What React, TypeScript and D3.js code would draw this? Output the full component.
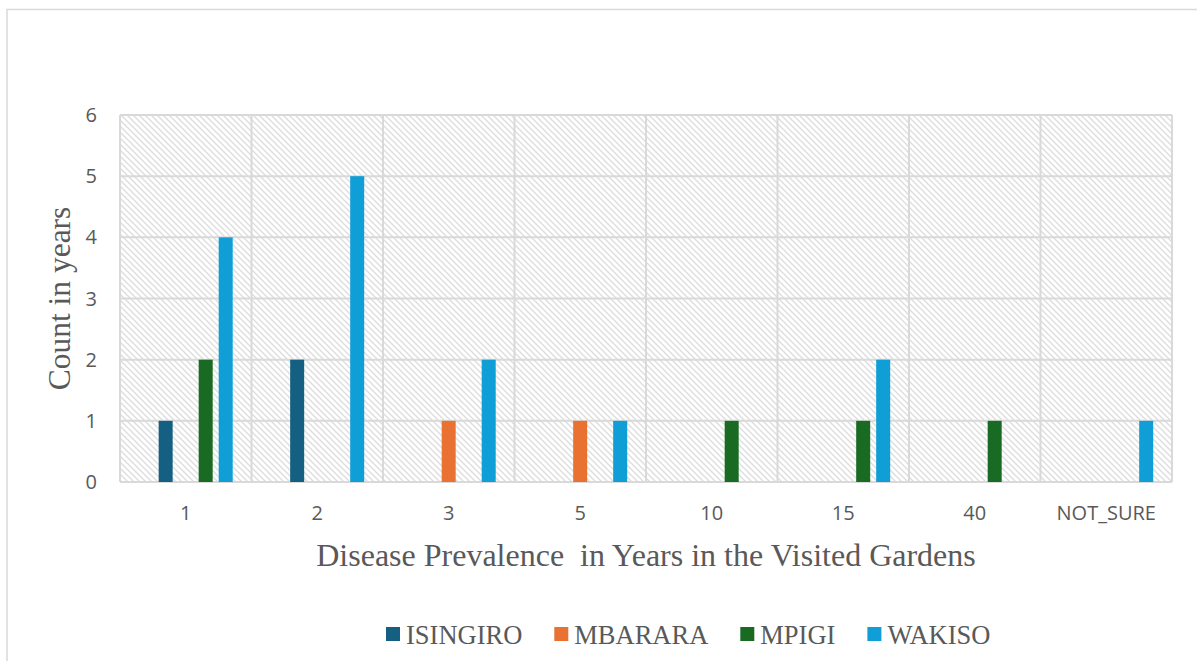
import React, { useMemo } from "react";
import * as d3 from "d3";

// Years of disease prevalence reported per visited garden, by district
const categories = ["1", "2", "3", "5", "10", "15", "40", "NOT_SURE"];
const seriesNames = ["ISINGIRO", "MBARARA", "MPIGI", "WAKISO"];
const isingiro = [1, 2, 0, 0, 0, 0, 0, 0];
const mbarara = [0, 0, 1, 1, 0, 0, 0, 0];
const mpigi = [2, 0, 0, 0, 1, 1, 1, 0];
const wakiso = [4, 5, 2, 1, 0, 2, 0, 1];
const yTicks = [0, 1, 2, 3, 4, 5, 6];
const seriesColors = ["#156082", "#E97132", "#196B24", "#0F9ED5"];

const W = 1197;
const H = 661;
const plot = { left: 120, right: 1172, top: 115, bottom: 482 };
const grid = "#d9d9d9";
const textColor = "#595959";
const serif = "'Liberation Serif', 'Times New Roman', serif";
const sans = "'Open Sans', 'DejaVu Sans', sans-serif";

function measure(text: string, font: string): number {
  const c = document.createElement("canvas").getContext("2d");
  if (!c) return text.length * 14;
  c.font = font;
  return c.measureText(text).width;
}

export default function App() {
  const values = [isingiro, mbarara, mpigi, wakiso];

  const x = d3.scaleBand<string>().domain(categories).range([plot.left, plot.right]).padding(0);
  const y = d3.scaleLinear().domain([0, 6]).range([plot.bottom, plot.top]);
  const bw = x.bandwidth();
  // bars sit in slots to the right of the category centre
  const xs = d3
    .scaleBand<string>()
    .domain(seriesNames)
    .range([bw * 0.294, bw * 0.857])
    .paddingInner(0.3);

  const legendFont = `26.5px ${serif}`;
  const legendItems = useMemo(() => {
    let cx = 386;
    return seriesNames.map((name, i) => {
      const w = measure(name, legendFont);
      const item = { name, color: seriesColors[i], x: cx };
      cx += 14 + 6 + w + 32;
      return item;
    });
  }, []);

  return (
    <div style={{ position: "fixed", left: 0, top: 0 }}>
      <svg width={W} height={H} style={{ display: "block", background: "#fff" }}>
        <defs>
          <pattern id="hatch" patternUnits="userSpaceOnUse" width={6} height={6}>
            <rect width={6} height={6} fill="#fff" />
            <path d="M0,0 L6,6 M-1,5 L1,7 M5,-1 L7,1" stroke="#dcdcdc" strokeWidth={1.3} />
          </pattern>
        </defs>

        {/* outer chart frame */}
        <rect x={7} y={9.5} width={W + 20} height={H + 20} fill="none" stroke={grid} strokeWidth={1.5} />

        {/* plot background */}
        <rect
          x={plot.left}
          y={plot.top}
          width={plot.right - plot.left}
          height={plot.bottom - plot.top}
          fill="url(#hatch)"
        />

        {/* horizontal gridlines */}
        {yTicks.map((t) => (
          <line key={"h" + t} x1={plot.left} x2={plot.right} y1={y(t)} y2={y(t)} stroke={grid} strokeWidth={2} />
        ))}
        {/* vertical category separators */}
        {categories.map((c) => (
          <line
            key={"v" + c}
            x1={x(c)!}
            x2={x(c)!}
            y1={plot.top}
            y2={plot.bottom}
            stroke={grid}
            strokeWidth={2}
          />
        ))}
        <line x1={plot.right} x2={plot.right} y1={plot.top} y2={plot.bottom} stroke={grid} strokeWidth={2} />

        {/* bars */}
        {seriesNames.map((s, si) =>
          categories.map((c, ci) => {
            const v = values[si][ci];
            if (!v) return null;
            return (
              <rect
                key={s + c}
                x={x(c)! + xs(s)!}
                y={y(v)}
                width={xs.bandwidth()}
                height={y(0) - y(v)}
                fill={seriesColors[si]}
              />
            );
          })
        )}

        {/* y tick labels */}
        {yTicks.map((t) => (
          <text
            key={"yt" + t}
            x={97}
            y={y(t) + 7}
            textAnchor="end"
            fontFamily={sans}
            fontSize={20}
            fill={textColor}
          >
            {t}
          </text>
        ))}

        {/* x tick labels */}
        {categories.map((c) => (
          <text
            key={"xt" + c}
            x={x(c)! + bw / 2}
            y={520}
            textAnchor="middle"
            fontFamily={sans}
            fontSize={20}
            fill={textColor}
          >
            {c}
          </text>
        ))}

        {/* axis titles */}
        <text
          transform={`translate(70, ${(plot.top + plot.bottom) / 2}) rotate(-90)`}
          textAnchor="middle"
          fontFamily={serif}
          fontSize={31.5}
          fill={textColor}
        >
          Count in years
        </text>
        <text
          x={(plot.left + plot.right) / 2}
          y={566}
          textAnchor="middle"
          fontFamily={serif}
          fontSize={32}
          fill={textColor}
          style={{ whiteSpace: "pre" }}
        >
          {"Disease Prevalence  in Years in the Visited Gardens"}
        </text>

        {/* legend */}
        {legendItems.map((it) => (
          <g key={it.name}>
            <rect x={it.x} y={627} width={14} height={14} fill={it.color} />
            <text x={it.x + 20} y={644} fontFamily={serif} fontSize={26.5} fill={textColor}>
              {it.name}
            </text>
          </g>
        ))}
      </svg>
    </div>
  );
}
